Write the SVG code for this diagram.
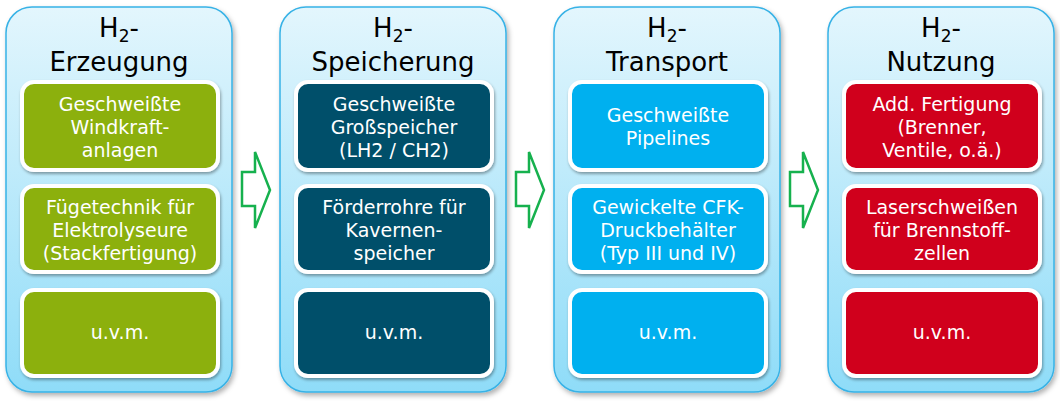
<svg xmlns="http://www.w3.org/2000/svg" width="1060" height="401" viewBox="0 0 1060 401">
<defs>
<linearGradient id="pg" x1="0" y1="0" x2="0" y2="1"><stop offset="0" stop-color="#e3f6fd"/><stop offset="1" stop-color="#8fdcf8"/></linearGradient>
<filter id="sh" x="-10%" y="-10%" width="130%" height="130%"><feDropShadow dx="2" dy="3" stdDeviation="2.5" flood-color="#000" flood-opacity="0.3"/></filter>
<filter id="sh2" x="-10%" y="-10%" width="130%" height="130%"><feDropShadow dx="1" dy="2" stdDeviation="1.5" flood-color="#000" flood-opacity="0.35"/></filter>
</defs>
<style>
.panel{fill:url(#pg);stroke:#37b2e6;stroke-width:1.5;filter:url(#sh)}
.box{stroke:#fff;stroke-width:4;filter:url(#sh2)}
.t{font-family:"DejaVu Sans",Verdana,sans-serif;font-size:26px;fill:#000;text-anchor:middle}
.b{font-family:"DejaVu Sans",Verdana,sans-serif;font-size:19px;fill:#fff;text-anchor:middle}
.arr{fill:#fff;stroke:#16b14e;stroke-width:2.5;stroke-linejoin:miter}
.g{fill:#8cb010}.d{fill:#00506a}.c{fill:#00b0ef}.r{fill:#d0021b}
</style>
<g id="p1">
<rect class="panel" x="6" y="7" width="226" height="385" rx="26"/>
<text class="t" x="119" y="37">H<tspan font-size="17" dy="5">2</tspan><tspan dy="-5">-</tspan></text>
<text class="t" x="119" y="71">Erzeugung</text>
<rect class="box g" x="22" y="82" width="196" height="88" rx="12"/>
<text class="b" x="120" y="111">Geschweißte</text><text class="b" x="120" y="134">Windkraft-</text><text class="b" x="120" y="157">anlagen</text>
<rect class="box g" x="22" y="186" width="196" height="86" rx="12"/>
<text class="b" x="120" y="214">Fügetechnik für</text><text class="b" x="120" y="237">Elektrolyseure</text><text class="b" x="120" y="260">(Stackfertigung)</text>
<rect class="box g" x="22" y="290" width="196" height="86" rx="12"/>
<text class="b" x="120" y="339">u.v.m.</text>
</g>
<g id="p2">
<rect class="panel" x="280" y="7" width="226" height="385" rx="26"/>
<text class="t" x="393" y="37">H<tspan font-size="17" dy="5">2</tspan><tspan dy="-5">-</tspan></text>
<text class="t" x="393" y="71">Speicherung</text>
<rect class="box d" x="296" y="82" width="196" height="88" rx="12"/>
<text class="b" x="394" y="111">Geschweißte</text><text class="b" x="394" y="134">Großspeicher</text><text class="b" x="394" y="157">(LH2 / CH2)</text>
<rect class="box d" x="296" y="186" width="196" height="86" rx="12"/>
<text class="b" x="394" y="214">Förderrohre für</text><text class="b" x="394" y="237">Kavernen-</text><text class="b" x="394" y="260">speicher</text>
<rect class="box d" x="296" y="290" width="196" height="86" rx="12"/>
<text class="b" x="394" y="339">u.v.m.</text>
</g>
<g id="p3">
<rect class="panel" x="554" y="7" width="226" height="385" rx="26"/>
<text class="t" x="667" y="37">H<tspan font-size="17" dy="5">2</tspan><tspan dy="-5">-</tspan></text>
<text class="t" x="667" y="71">Transport</text>
<rect class="box c" x="570" y="82" width="196" height="88" rx="12"/>
<text class="b" x="668" y="122">Geschweißte</text><text class="b" x="668" y="145">Pipelines</text>
<rect class="box c" x="570" y="186" width="196" height="86" rx="12"/>
<text class="b" x="668" y="214">Gewickelte CFK-</text><text class="b" x="668" y="237">Druckbehälter</text><text class="b" x="668" y="260">(Typ III und IV)</text>
<rect class="box c" x="570" y="290" width="196" height="86" rx="12"/>
<text class="b" x="668" y="339">u.v.m.</text>
</g>
<g id="p4">
<rect class="panel" x="828" y="7" width="226" height="385" rx="26"/>
<text class="t" x="941" y="37">H<tspan font-size="17" dy="5">2</tspan><tspan dy="-5">-</tspan></text>
<text class="t" x="941" y="71">Nutzung</text>
<rect class="box r" x="844" y="82" width="196" height="88" rx="12"/>
<text class="b" x="942" y="111">Add. Fertigung</text><text class="b" x="942" y="134">(Brenner,</text><text class="b" x="942" y="157">Ventile, o.ä.)</text>
<rect class="box r" x="844" y="186" width="196" height="86" rx="12"/>
<text class="b" x="942" y="214">Laserschweißen</text><text class="b" x="942" y="237">für Brennstoff-</text><text class="b" x="942" y="260">zellen</text>
<rect class="box r" x="844" y="290" width="196" height="86" rx="12"/>
<text class="b" x="942" y="339">u.v.m.</text>
</g>
<g id="connectors">
<path class="arr" d="M242,172 H255 V152 L270,190 L255,228 V206 H242 Z"/>
<path class="arr" d="M516,172 H529 V152 L544,190 L529,228 V206 H516 Z"/>
<path class="arr" d="M790,172 H803 V152 L818,190 L803,228 V206 H790 Z"/>
</g>
</svg>
